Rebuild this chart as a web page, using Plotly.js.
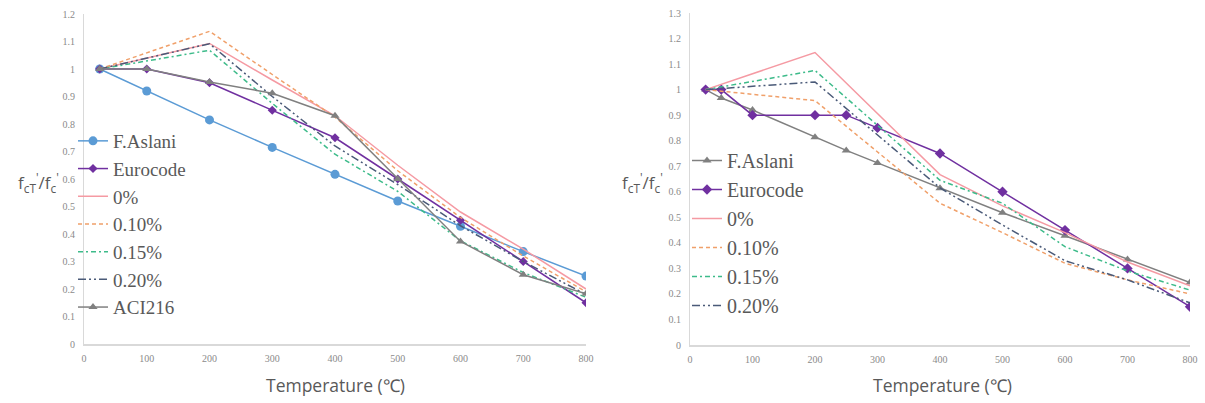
<!DOCTYPE html>
<html>
<head>
<meta charset="utf-8">
<script src="https://cdn.plot.ly/plotly-3.0.1.min.js"></script>
<style>html,body{margin:0;padding:0;background:#fff;}#chart{width:1205px;height:403px;}</style>
</head>
<body>
<div id="chart"></div>
<script>
// ---- Left chart data ----
const L_fullT = [25, 100, 200, 300, 400, 500, 600, 700, 800];
const L_aslani = [1, 0.92, 0.815, 0.715, 0.617, 0.52, 0.428, 0.336, 0.247];
const L_eurocode = [1, 1, 0.95, 0.85, 0.75, 0.6, 0.45, 0.3, 0.15];
const L_aci216 = [1, 1, 0.953, 0.912, 0.83, 0.6, 0.373, 0.252, 0.183];
const L_fibT = [25, 200, 300, 400, 500, 600, 700, 800];
const L_p0 = [1, 1.093, 0.96, 0.83, 0.65, 0.48, 0.345, 0.2];
const L_p010 = [1, 1.137, 0.98, 0.825, 0.63, 0.46, 0.32, 0.19];
const L_p015 = [1, 1.068, 0.875, 0.69, 0.555, 0.375, 0.26, 0.17];
const L_p020 = [1, 1.092, 0.9, 0.72, 0.58, 0.43, 0.3, 0.18];

// ---- Right chart data ----
const R_T = [25, 50, 100, 200, 250, 300, 400, 500, 600, 700, 800];
const R_aslani = [1, 0.967, 0.92, 0.813, 0.762, 0.713, 0.614, 0.518, 0.428, 0.335, 0.245];
const R_eurocode = [1, 1, 0.9, 0.9, 0.9, 0.85, 0.75, 0.6, 0.45, 0.3, 0.15];
const R_fibT = [25, 200, 400, 500, 600, 700, 800];
const R_p0 = [1, 1.145, 0.667, 0.545, 0.44, 0.325, 0.232];
const R_p010 = [1, 0.957, 0.555, 0.44, 0.32, 0.255, 0.2];
const R_p015 = [1, 1.075, 0.645, 0.555, 0.385, 0.29, 0.215];
const R_p020 = [1, 1.03, 0.615, 0.47, 0.33, 0.255, 0.165];

const names = ['F.Aslani', 'Eurocode', '0%', '0.10%', '0.15%', '0.20%', 'ACI216'];
const C = {blue:'#5B9BD5', purple:'#7030A0', pink:'#F59AA3', orange:'#F0A06A', green:'#3DBB8A', navy:'#4A5A78', gray:'#808080'};

const W = 1205, H = 403;
const px = v => v / W, py = v => 1 - v / H;

function line(x, y, name, color, dash, marker, xa, ya, lg) {
  const t = {x: x, y: y, name: name, type: 'scatter', xaxis: xa, yaxis: ya, legend: lg,
    line: {color: color, width: 1.5, dash: dash}, mode: marker ? 'lines+markers' : 'lines'};
  if (marker) t.marker = marker;
  return t;
}

const traces = [
  line(L_fullT, L_aslani, names[0], C.blue, 'solid', {symbol:'circle', size:9, color:C.blue}, 'x', 'y', 'legend'),
  line(L_fullT, L_eurocode, names[1], C.purple, 'solid', {symbol:'diamond', size:7, color:C.purple}, 'x', 'y', 'legend'),
  line(L_fibT, L_p0, names[2], C.pink, 'solid', null, 'x', 'y', 'legend'),
  line(L_fibT, L_p010, names[3], C.orange, '4px,3px', null, 'x', 'y', 'legend'),
  line(L_fibT, L_p015, names[4], C.green, '5px,3px,2px,3px', null, 'x', 'y', 'legend'),
  line(L_fibT, L_p020, names[5], C.navy, '8px,3px,2px,3px,2px,3px', null, 'x', 'y', 'legend'),
  line(L_fullT, L_aci216, names[6], C.gray, 'solid', {symbol:'triangle-up', size:8, color:C.gray}, 'x', 'y', 'legend'),

  line(R_T, R_aslani, names[0], C.gray, 'solid', {symbol:'triangle-up', size:8, color:C.gray}, 'x2', 'y2', 'legend2'),
  line(R_T, R_eurocode, names[1], C.purple, 'solid', {symbol:'diamond', size:8, color:C.purple}, 'x2', 'y2', 'legend2'),
  line(R_fibT, R_p0, names[2], C.pink, 'solid', null, 'x2', 'y2', 'legend2'),
  line(R_fibT, R_p010, names[3], C.orange, '4px,3px', null, 'x2', 'y2', 'legend2'),
  line(R_fibT, R_p015, names[4], C.green, '5px,3px,2px,3px', null, 'x2', 'y2', 'legend2'),
  line(R_fibT, R_p020, names[5], C.navy, '8px,3px,2px,3px,2px,3px', null, 'x2', 'y2', 'legend2')
];

const SERIF = 'Liberation Serif';
const tickFont = {family: SERIF, size: 10, color: '#8a8a8a'};
function xaxis(domain, anchor) {
  return {domain: domain, anchor: anchor, range: [0, 800], dtick: 100, tick0: 0, showgrid: false,
    zeroline: false, showline: true, linecolor: '#d9d9d9', linewidth: 1.5, ticks: '', tickfont: tickFont,
    ticklabelstandoff: 4, fixedrange: true};
}
function yaxis(domain, anchor, max) {
  return {domain: domain, anchor: anchor, range: [0, max], dtick: 0.1, tick0: 0, showgrid: false,
    zeroline: false, showline: true, linecolor: '#d9d9d9', linewidth: 1, ticks: '', tickfont: tickFont,
    ticklabelstandoff: 6, fixedrange: true};
}
const legFont = {family: SERIF, color: '#595959'};
const ytitle = "f<sub>cT</sub><sup>'</sup>/f<sub>c</sub><sup>'</sup>";
const titleFont = {family: 'Open Sans', size: 17.5, color: '#595959'};

const layout = {
  width: W, height: H, margin: {l: 0, r: 0, t: 0, b: 0},
  paper_bgcolor: '#fff', plot_bgcolor: '#fff', showlegend: true,
  font: {family: SERIF},
  xaxis: xaxis([px(84), px(586)], 'y'),
  yaxis: yaxis([py(344), py(14)], 'x', 1.2),
  xaxis2: xaxis([px(690), px(1190)], 'y2'),
  yaxis2: yaxis([py(345), py(13)], 'x2', 1.3),
  legend: {x: px(73), y: py(122), xanchor: 'left', yanchor: 'top', bgcolor: 'rgba(0,0,0,0)',
    font: Object.assign({size: 19}, legFont), tracegroupgap: 0},
  legend2: {x: px(687), y: py(141), xanchor: 'left', yanchor: 'top', bgcolor: 'rgba(0,0,0,0)',
    font: Object.assign({size: 20}, legFont), tracegroupgap: 0},
  annotations: [
    {text: 'Temperature (℃)', xref: 'paper', yref: 'paper', x: px(335), y: py(385), xanchor: 'center', yanchor: 'middle', showarrow: false, font: titleFont},
    {text: 'Temperature (℃)', xref: 'paper', yref: 'paper', x: px(942), y: py(385), xanchor: 'center', yanchor: 'middle', showarrow: false, font: titleFont},
    {text: ytitle, xref: 'paper', yref: 'paper', x: px(38), y: py(183), xanchor: 'center', yanchor: 'middle', showarrow: false, font: {family: 'Open Sans', size: 17, color: '#595959'}},
    {text: ytitle, xref: 'paper', yref: 'paper', x: px(642), y: py(183), xanchor: 'center', yanchor: 'middle', showarrow: false, font: {family: 'Open Sans', size: 17, color: '#595959'}}
  ]
};

Plotly.newPlot('chart', traces, layout, {displayModeBar: false, staticPlot: true});
</script>
</body>
</html>
